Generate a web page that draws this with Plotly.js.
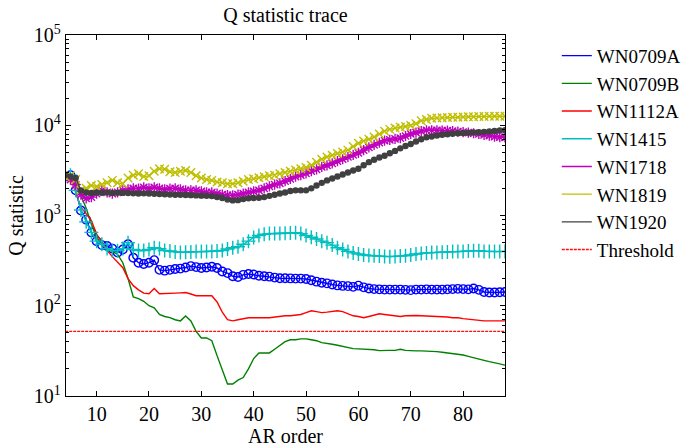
<!DOCTYPE html>
<html>
<head>
<meta charset="utf-8">
<script src="https://cdn.plot.ly/plotly-3.0.1.min.js"></script>
<style>
html,body{margin:0;padding:0;background:#fff;}
#chart{width:694px;height:448px;}
</style>
</head>
<body>
<div id="chart"></div>
<script>
// AR orders 4..88
const arStart = 4, arEnd = 88;
const arOrder = [];
for (let k = arStart; k <= arEnd; k++) arOrder.push(k);

const seriesNames = ["WN0709A", "WN0709B", "WN1112A", "WN1415", "WN1718", "WN1819", "WN1920"];

const WN0709A = [2700,2800,1900,1135,900,650,520,470,460,430,
  390,420,480,340,300,290,300,320,250,245,
  250,255,258,265,275,268,262,265,270,262,
  240,230,212,208,220,225,222,215,212,210,
  205,202,202,201,200,200,198,192,185,180,
  177,172,168,166,165,162,167,160,155,153,
  152,151,151,151,151,150,149,151,151,152,
  151,151,151,152,153,154,153,152,155,150,
  142,140,140,141,142];

const WN0709B = [2800,2700,2300,1700,1200,800,570,480,430,400,
  370,300,200,125,120,112,100,95,80,76,
  74,70,68,77,68,52,44,44,41,28,
  19,13.6,13.6,15,16,20,26,30,30,30,
  33,36,40,42,42,43,43,42,41,39,
  38.5,37.5,36.5,35.5,34.5,33.5,33.3,33,33,32.5,
  31.8,31.6,32,32,33,32,31.6,31.6,31.6,31.6,
  31.6,31,30.5,30,29.5,29.3,28.5,27.5,26.4,25.5,
  24.8,24,23.5,22.7,22];

const WN1112A = [2700,2600,1800,1230,1050,880,620,500,410,350,
  300,264,200,167,150,138,136,155,136,136,
  136,138,139,140,135,129,129,129,129,110,
  85,70,68,70,72,73.6,73.6,73,73.6,73.6,
  75,77,77.4,77.4,78,80,84,88,86,84,
  85,87,88,86,82,77.4,76,73.6,76,79,
  81.5,80,79,77.4,76,77.4,78,78,77.4,77,
  77.4,77,76,75,73.6,73.6,72,71,70,68,
  68,68,68,68,68];

const WN1415 = [2700,2800,1900,1150,850,650,520,480,430,410,
  408,430,500,420,410,410,420,440,430,410,
  405,395,390,392,395,398,398,398,400,405,
  410,425,440,450,480,520,570,600,620,630,
  631,631,635,640,646,630,600,575,550,520,
  500,470,440,420,400,385,375,365,360,358,
  355,352,350,352,355,358,365,375,380,385,
  388,390,392,395,398,398,400,405,408,408,
  400,400,398,398,400];

const WN1718 = [2600,2500,2200,1700,1550,1600,1750,1900,1800,1750,
  1800,1900,1950,2000,1990,2050,2000,2050,2000,1950,
  1990,2000,1950,1900,1900,1895,1850,1800,1800,1750,
  1700,1680,1670,1700,1750,1800,1850,1895,2000,2100,
  2200,2270,2400,2550,2700,2800,2930,3100,3250,3450,
  3600,3780,4000,4200,4450,4700,4950,5300,5700,6050,
  6400,6750,6900,7050,7200,7600,8000,8300,8600,8800,
  8800,8800,8750,8700,8600,8500,8400,8300,8150,8000,
  7800,7650,7500,7400,7350];

const WN1819 = [2700,2750,2500,1900,2000,2150,2100,2200,2300,2450,
  2300,2250,2600,2800,2900,2700,2750,3100,3300,3250,
  3050,3000,3100,3150,3000,2750,2600,2500,2450,2350,
  2300,2250,2250,2300,2400,2500,2550,2620,2680,2750,
  2800,2900,3000,3100,3200,3300,3400,3600,3900,4200,
  4450,4650,4850,5050,5300,5800,6300,6700,7000,7400,
  8000,8600,9000,9300,9500,9700,9950,10400,11200,11600,
  11950,12000,12100,12200,12250,12300,12350,12400,12450,12500,
  12500,12550,12550,12600,12600];

const WN1920 = [2800,2700,2600,1900,1800,1780,1800,1790,1800,1780,
  1790,1780,1770,1760,1750,1760,1750,1740,1730,1720,
  1710,1700,1700,1690,1680,1670,1660,1650,1640,1600,
  1560,1500,1470,1480,1520,1550,1560,1570,1600,1650,
  1700,1750,1800,1870,1900,1900,1900,2000,2150,2300,
  2450,2570,2700,2850,3000,3150,3300,3600,3900,4150,
  4400,4600,4900,5200,5550,5900,6200,6600,7000,7350,
  7500,7700,7850,7950,8050,8150,8200,8250,8300,8350,
  8450,8550,8650,8750,8800];

const thresholdValue = 52;

const yTickVals = [10, 100, 1000, 10000, 100000];
const yTickText = ["10<sup>1</sup>", "10<sup>2</sup>", "10<sup>3</sup>", "10<sup>4</sup>", "10<sup>5</sup>"];
const yMinorVals = [20,30,40,50,60,70,80,90, 200,300,400,500,600,700,800,900,
  2000,3000,4000,5000,6000,7000,8000,9000, 20000,30000,40000,50000,60000,70000,80000,90000];
const xTickVals = [10, 20, 30, 40, 50, 60, 70, 80];

const seriesValues = [WN0709A, WN0709B, WN1112A, WN1415, WN1718, WN1819, WN1920];
const colors = ["#0000FF", "#008000", "#FF0000", "#00BFBF", "#BF00BF", "#BFBF00", "#404040"];
const symbols = ["circle-open", null, null, "cross-thin-open", "asterisk-open", "x-thin-open", "circle"];
const msizes = [8.5, 0, 0, 10, 8.5, 8.5, 5];

const data = [];
seriesValues.forEach((vals, i) => {
  data.push({
    x: arOrder, y: vals, type: "scatter", mode: "lines", name: seriesNames[i],
    line: {color: colors[i], width: 1.4}, legendgroup: "g" + i
  });
  if (symbols[i]) {
    data.push({
      x: arOrder, y: vals, type: "scatter", mode: "markers",
      marker: {symbol: symbols[i], size: msizes[i], color: colors[i], line: {color: colors[i], width: 1.4}},
      showlegend: false, hoverinfo: "skip", legendgroup: "g" + i
    });
  }
});
data.push({
  x: [arOrder[0], arOrder[arOrder.length - 1]], y: [thresholdValue, thresholdValue],
  type: "scatter", mode: "lines", name: "Threshold",
  line: {color: "#FF1010", width: 1.4, dash: "3px,1px"}, legendgroup: "g7"
});

const fontFam = "Liberation Serif, Times New Roman, serif";

const layout = {
  width: 694, height: 448,
  margin: {l: 66, r: 189, t: 35, b: 52, autoexpand: false},
  paper_bgcolor: "#fff", plot_bgcolor: "#fff",
  font: {family: fontFam, size: 20, color: "#000"},
  title: {text: "Q statistic trace", font: {family: fontFam, size: 20, color: "#000"},
    x: 0.5, xref: "paper", y: 0.967, yref: "container", yanchor: "middle"},
  xaxis: {
    range: [4.15, 88], tickvals: xTickVals,
    ticks: "inside", ticklen: 5, tickcolor: "#000", tickwidth: 1,
    showline: true, linecolor: "#000", linewidth: 1.3, mirror: "ticks",
    showgrid: false, zeroline: false,
    tickfont: {family: fontFam, size: 20},
    title: {text: "AR order", font: {family: fontFam, size: 20}, standoff: 0}
  },
  yaxis: {
    type: "log", range: [1, 5], tickvals: yTickVals, ticktext: yTickText,
    ticks: "inside", ticklen: 5, tickcolor: "#000", tickwidth: 1,
    minor: {tickvals: yMinorVals, ticks: "inside", ticklen: 3, tickcolor: "#000", showgrid: false},
    showline: true, linecolor: "#000", linewidth: 1.3, mirror: "ticks",
    showgrid: false, zeroline: false,
    tickfont: {family: fontFam, size: 20},
    title: {text: "Q statistic", font: {family: fontFam, size: 20}, standoff: 4}
  },
  legend: {
    x: 1.118, xanchor: "left", y: 0.995, yanchor: "top",
    font: {family: fontFam, size: 19, color: "#000"},
    bgcolor: "rgba(0,0,0,0)", borderwidth: 0,
    traceorder: "grouped", tracegroupgap: 0, itemwidth: 30
  },
  showlegend: true
};

Plotly.newPlot("chart", data, layout, {staticPlot: true, displayModeBar: false});
</script>
</body>
</html>
